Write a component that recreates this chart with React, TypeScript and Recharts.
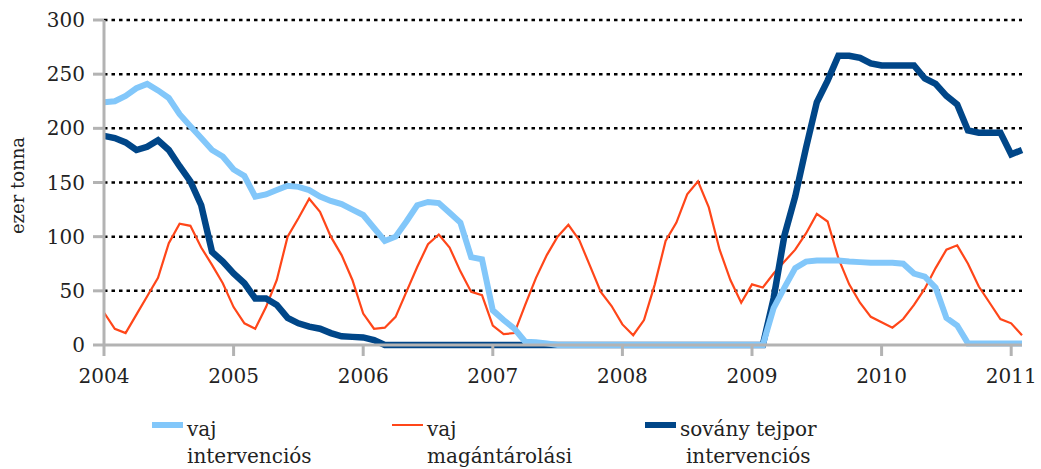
import { LineChart, Line, XAxis, YAxis, CartesianGrid } from 'recharts';

// monthly data, Jan 2004 .. Feb 2011 (ezer tonna)
const vajIntervencios = [
  224, 225, 230, 237, 241, 235, 228, 213, 202, 191,
  180, 174, 162, 156, 137, 139, 143, 147, 146, 143,
  137, 133, 130, 125, 120, 108, 96, 100, 114, 129,
  132, 131, 122, 113, 81, 79, 32, 23, 15, 3,
  2.5, 1.5, 0, 0, 0, 0, 0, 0, 0, 0,
  0, 0, 0, 0, 0, 0, 0, 0, 0, 0,
  0, 0, 34, 53, 71, 77, 78, 78, 78, 77,
  76.5, 76, 76, 76, 75, 66, 63, 53, 25, 18,
  1.5, 1.5, 1.5, 1.5, 1.5, 1.5,
];

const vajMagantarolasi = [
  30, 15, 11, 28, 45, 62, 94, 112, 110, 90,
  74, 57, 35, 20, 15, 35, 60, 100, 117, 135,
  123, 100, 83, 60, 29, 15, 16, 26, 49, 72,
  93, 102, 90, 68, 49, 46, 18, 10, 11, 37,
  62, 83, 100, 111, 97, 73, 49, 36, 19, 9,
  23, 56, 96, 113, 139, 151, 127, 88, 60, 39,
  56, 53, 66, 77, 88, 103, 121, 114, 80, 56,
  39, 26, 21, 16, 24, 37, 52, 71, 88, 92,
  75, 54, 39, 24, 20, 9,
];

const tejporIntervencios = [
  193, 191, 187, 180, 183, 189, 180, 165, 151, 129,
  86, 77, 66, 57, 43, 43, 37, 25, 20, 17,
  15, 11, 8, 7.5, 7, 4.5, 0, 0, 0, 0,
  0, 0, 0, 0, 0, 0, 0, 0, 0, 0,
  0, 0, 0, 0, 0, 0, 0, 0, 0, 0,
  0, 0, 0, 0, 0, 0, 0, 0, 0, 0,
  0, 0, 43, 101, 137, 182, 224, 244, 267, 267,
  265, 260, 258, 258, 258, 258, 246, 241, 230, 222,
  198, 196, 196, 196, 176, 180,
];

const yearLabels = ['2004', '2005', '2006', '2007', '2008', '2009', '2010', '2011'];
const yearTicks = [0, 12, 24, 36, 48, 60, 72, 84];
const yTicks = [0, 50, 100, 150, 200, 250, 300];

const LIGHT = '#82c7fa';
const DARK = '#004688';
const ORANGE = '#ff4619';
const AXIS = '#b3b3b3';
const FONT = "'DejaVu Serif', serif";

const data = vajIntervencios.map((v, i) => ({
  m: i,
  vaj: v,
  magan: vajMagantarolasi[i],
  tejpor: tejporIntervencios[i],
}));

const tickStyle = { fontSize: 20, fill: '#222', fontFamily: FONT };

function LegendItem({ left, swatch, color, thick, lines, center }: {
  left: number; swatch: number; color: string; thick: number; lines: string[]; center?: boolean;
}) {
  return (
    <div style={{ position: 'absolute', left, top: 415 }}>
      <div
        style={{
          position: 'absolute',
          left: 0,
          top: 10 - thick / 2,
          width: swatch,
          height: thick,
          background: color,
        }}
      />
      <div
        style={{
          position: 'absolute',
          left: swatch + 4,
          top: 1,
          fontFamily: FONT,
          fontSize: 20,
          lineHeight: '27px',
          color: '#222',
          whiteSpace: 'nowrap',
          textAlign: center ? 'center' : 'left',
        }}
      >
        {lines.map((t) => (
          <div key={t}>{t}</div>
        ))}
      </div>
    </div>
  );
}

export default function App() {
  return (
    <div style={{ position: 'absolute', left: 0, top: 0, width: 1041, height: 469, background: '#fff', fontFamily: FONT }}>
      <LineChart width={1041} height={469} data={data} margin={{ top: 20, right: 19, left: 0, bottom: 84 }}>
        <CartesianGrid
          vertical={false}
          horizontalValues={[50, 100, 150, 200, 250, 300]}
          stroke="#000"
          strokeWidth={2.5}
          strokeDasharray="3.5 4"
        />
        <XAxis
          dataKey="m"
          type="number"
          domain={[0, 85]}
          ticks={yearTicks}
          interval={0}
          tickFormatter={(v) => yearLabels[v / 12]}
          tickSize={11}
          tickMargin={13}
          height={40}
          axisLine={{ stroke: AXIS, strokeWidth: 3 }}
          tickLine={{ stroke: AXIS, strokeWidth: 3 }}
          tick={tickStyle}
        />
        <YAxis
          domain={[0, 300]}
          ticks={yTicks}
          interval={0}
          width={104}
          tickSize={11}
          tickMargin={8}
          axisLine={{ stroke: AXIS, strokeWidth: 3 }}
          tickLine={{ stroke: AXIS, strokeWidth: 3 }}
          tick={tickStyle}
          label={{
            value: 'ezer tonna',
            angle: -90,
            position: 'center',
            dx: -34,
            dy: 3,
            style: { fontSize: 18, fill: '#222', fontFamily: FONT },
          }}
        />
        <Line type="linear" dataKey="magan" stroke={ORANGE} strokeWidth={2.2} dot={false} isAnimationActive={false} />
        <Line type="linear" dataKey="tejpor" stroke={DARK} strokeWidth={6.5} dot={false} isAnimationActive={false} />
        <Line type="linear" dataKey="vaj" stroke={LIGHT} strokeWidth={6} dot={false} isAnimationActive={false} />
      </LineChart>
      <LegendItem left={152} swatch={31} color={LIGHT} thick={6} lines={['vaj', 'intervenciós']} />
      <LegendItem left={392} swatch={31} color={ORANGE} thick={2.5} lines={['vaj', 'magántárolási']} />
      <LegendItem left={645} swatch={31} color={DARK} thick={6} lines={['sovány tejpor', 'intervenciós']} center />
    </div>
  );
}
